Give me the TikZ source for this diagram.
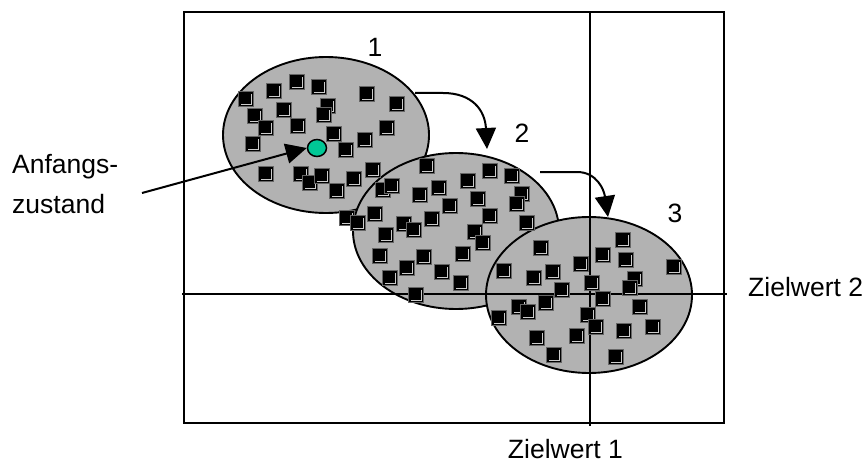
\documentclass[tikz,border=0pt]{standalone}
\usepackage{fontspec}
\setmainfont{Liberation Sans}
\usetikzlibrary{shapes.geometric,arrows.meta}
\definecolor{seed}{RGB}{0,200,150}
\begin{document}
\begin{tikzpicture}[x=1pt,y=-1pt,
  blob/.style={ellipse, draw=black, line width=1.9pt, fill=black!30, minimum width=206pt, minimum height=156pt, inner sep=0pt},
  lbl/.style={font=\fontsize{26.5}{30}\selectfont, inner sep=0pt},
  axisline/.style={line width=1.9pt},
  flow/.style={line width=2pt, -{Triangle[length=21pt,width=20pt]}},
  sq/.pic={\filldraw[fill=black, draw=black!60, line width=1pt] (-7.5,-7.5) rectangle (7.5,7.5);
           \draw[black!20, line width=0.8pt] (-5,5) -- (5,5) -- (5,-5);}
]
\fill[white] (0,0) rectangle (866,465);
\useasboundingbox (0,0) rectangle (866,465);

% ellipses
\node[blob] (e1) at (326,135) {};
\node[blob] (e2) at (456,231) {};
\node[blob] (e3) at (589,295) {};

% frame and target lines
\draw[axisline] (184,12) rectangle (724,423);
\coordinate (vtop) at (590,12);
\coordinate (vbot) at (590,426);
\coordinate (hl) at (182,294);
\coordinate (hr) at (727,294);
\draw[axisline] (vtop) -- (vbot);
\draw[axisline] (hl) -- (hr);

% squares
\foreach \p in {(246,99),(274,91),(297,82),(319,87),(367,94),(397,104),
  (255,116),(266,128),(284,110),(298,126),(328,106),(324,115),(334,134),(387,128),
  (253,144),(346,150),(365,140),
  (266,174),(301,174),(310,183),(322,176),(354,179),(373,170),(337,191),(383,190),(392,186),
  (427,166),(420,195),(439,188),(468,181),(490,171),(512,176),(522,194),(517,204),(478,199),(450,206),(490,216),(527,223),
  (375,214),(347,218),(358,223),(404,224),(414,230),(432,219),(386,235),(475,232),(483,243),(380,256),(424,257),(463,254),(407,268),(442,272),(390,278),(461,283),(416,295),
  (623,240),(541,248),(603,255),(626,260),(581,264),(674,267),(504,271),(534,278),(553,272),(592,283),(635,279),(630,288),(562,290),(603,299),(546,303),(640,307),(519,307),(528,312),(499,318),(588,315),(596,327),(624,331),(653,327),(537,338),(577,336),(554,355),(616,357)}
  \pic at \p {sq};

% start point
\node[ellipse, draw=black, line width=1.5pt, fill=seed, minimum width=19pt, minimum height=17pt, inner sep=0pt] (start) at (317,148) {};

% labels
\node[lbl, anchor=base west] (anf) at (12,173) {Anfangs-};
\node[lbl, anchor=base west] (zus) at (12,213) {zustand};
\node[lbl] (n1) at (375,47) {1};
\node[lbl] (n2) at (522,133) {2};
\node[lbl] (n3) at (675,213) {3};
\node[lbl, anchor=base west] (z2) at (748,296) {Zielwert 2};
\node[lbl, anchor=base east] (z1) at (623,458) {Zielwert 1};

% arrows
\coordinate (tail) at (142,193);
\draw[flow] (tail) -- (start.west);
\coordinate (a1s) at (415,93);
\coordinate (a1e) at (487,149);
\draw[flow] (a1s) -- (443,93) .. controls (472,93) and (485,110) .. (a1e);
\coordinate (a2s) at (540,172);
\coordinate (a2e) at (608,217);
\draw[flow] (a2s) -- (577,172) .. controls (597,172) and (604,190) .. (a2e);
\end{tikzpicture}
\end{document}
